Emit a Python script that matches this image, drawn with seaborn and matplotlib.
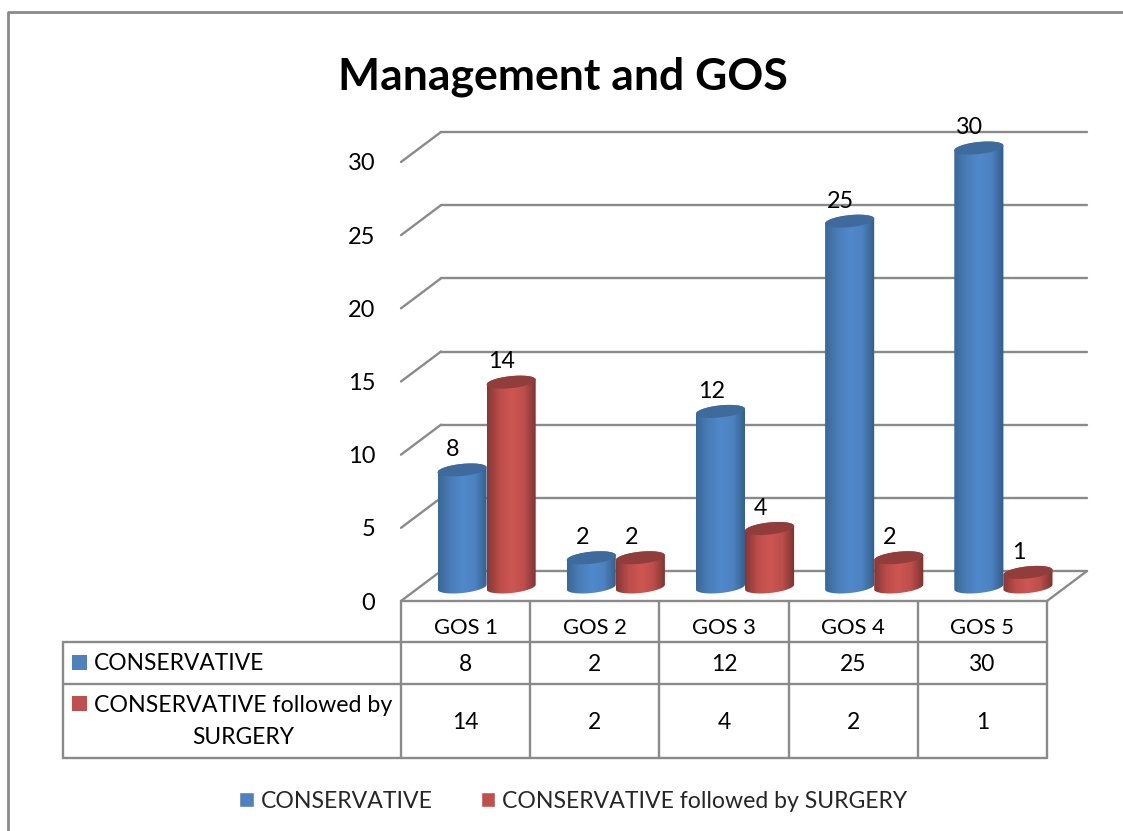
import numpy as np
import pandas as pd
import matplotlib
matplotlib.use("Agg")
import matplotlib.pyplot as plt
import seaborn as sns
from matplotlib.colors import LinearSegmentedColormap
from matplotlib.patches import PathPatch, Rectangle
from matplotlib.path import Path
from matplotlib.transforms import Affine2D, IdentityTransform, blended_transform_factory

categories = ["GOS 1", "GOS 2", "GOS 3", "GOS 4", "GOS 5"]
conservative = [8, 2, 12, 25, 30]
followed_by_surgery = [14, 2, 4, 2, 1]
value_ticks = [0, 5, 10, 15, 20, 25, 30]
series_names = ["CONSERVATIVE", "CONSERVATIVE followed by SURGERY"]
row_label_lines = [["CONSERVATIVE"], ["CONSERVATIVE followed by", "SURGERY"]]
title = "Management and GOS"

BLUE, RED = "#4F81BD", "#C0504D"
GRID = "#8A8A8A"
W, H = 1123, 831
TEXT_SIZE = 16.4

sns.set_theme(style="white")
plt.rcParams["font.family"] = ["Lato", "DejaVu Sans"]
plt.rcParams["savefig.dpi"] = 100

fig = plt.figure(figsize=(W / 100, H / 100), dpi=100, facecolor="white")

# Pixel-space layer for the outer frame and the data table
sheet = fig.add_axes([0, 0, 1, 1], zorder=0)
sheet.set_xlim(0, W)
sheet.set_ylim(H, 0)
sheet.axis("off")

ax = fig.add_axes([401 / W, (H - 601) / H, 646 / W, 439 / H], zorder=1)
ax.patch.set_alpha(0)

long_df = pd.DataFrame({
    "group": categories * 2,
    "series": [series_names[0]] * 5 + [series_names[1]] * 5,
    "count": conservative + followed_by_surgery,
})
sns.barplot(data=long_df, x="group", y="count", hue="series", hue_order=series_names,
            order=categories, palette=[BLUE, RED], saturation=1, width=0.76, gap=0, ax=ax)
ax.set_xlim(-0.5, 4.5)
ax.set_ylim(0, 30)
ax.set_xlabel("")
ax.set_ylabel("")
ax.set_yticks(value_ticks)
ax.tick_params(axis="y", length=0, pad=18.5, labelsize=17, colors="black")
ax.tick_params(axis="x", length=0, pad=12.5, labelsize=15.8, colors="black")
sns.despine(ax=ax, left=True, bottom=True)

# Oblique projection: back wall and cylinder floor positions
wall_shift = Affine2D().translate(40, 30)
wall = ax.transData + wall_shift
line_kw = dict(color=GRID, lw=1.7, solid_capstyle="round", clip_on=False, zorder=1)
x0, x1 = ax.get_xlim()
for v in value_ticks:
    ax.plot([x0, x1], [v, v], transform=wall, **line_kw)
    p0 = ax.transData.transform((x0, v))
    p1 = wall.transform((x0, v))
    ax.add_line(plt.Line2D([p0[0], p1[0]], [p0[1], p1[1]], transform=IdentityTransform(), **line_kw))
p0 = ax.transData.transform((x1, 0))
p1 = wall.transform((x1, 0))
ax.add_line(plt.Line2D([p0[0], p1[0]], [p0[1], p1[1]], transform=IdentityTransform(), **line_kw))
ax.plot([x0, x1], [0, 0], **line_kw)

lift = ax.transData + Affine2D().translate(21, 14)
ramps = {
    0: LinearSegmentedColormap.from_list("b", ["#3A6898", "#4A7DB8", "#5089CC", "#4D82C1", "#335D8A"]),
    1: LinearSegmentedColormap.from_list("r", ["#863836", "#BC4D4A", "#CE5652", "#BD4E4B", "#7C3331"]),
}
lids = {0: "#3E6A9C", 1: "#903D3B"}
tilt = np.deg2rad(6)
u = np.array([np.cos(tilt), np.sin(tilt)])
v_dir = np.array([-np.sin(tilt), np.cos(tilt)])


def ring(center, semi_a, semi_b, start, stop):
    th = np.deg2rad(np.linspace(start, stop, 40))
    return center + np.outer(semi_a * np.cos(th), u) + np.outer(semi_b * np.sin(th), v_dir)


for k, container in enumerate(ax.containers):
    for bar, value in zip(container, (conservative, followed_by_surgery)[k]):
        left, wid, hgt = bar.get_x(), bar.get_width(), bar.get_height()
        bar.set_visible(False)
        mid = left + wid / 2
        top = lift.transform((mid, hgt))
        base = lift.transform((mid, 0))
        a = (lift.transform((left + wid, 0))[0] - lift.transform((left, 0))[0]) / 2 / np.cos(tilt)
        b = 6
        outline = np.vstack([ring(base, a, b, 180, 360), ring(top, a, b, 0, 180)])
        body = PathPatch(Path(np.vstack([outline, outline[:1]]), closed=True),
                         transform=IdentityTransform(), fc="none", ec="none")
        ax.add_patch(body)
        ramp = np.linspace(0, 1, 64).reshape(1, -1)
        im = ax.imshow(ramp, cmap=ramps[k], aspect="auto", zorder=3 + k,
                       extent=(left, left + wid, -1, hgt + 1), transform=lift)
        im.set_clip_path(body)
        im.set_clip_box(fig.bbox)
        lid = ring(top, a, b, 0, 360)
        ax.add_patch(plt.Polygon(lid, closed=True, transform=IdentityTransform(),
                                 fc=lids[k], ec="none", zorder=3.5 + k, clip_on=False))
        ax.annotate(str(value), xy=(mid, hgt), xycoords=lift, xytext=(-6.5, 14.5),
                    textcoords="offset points", ha="center", va="center",
                    fontsize=TEXT_SIZE + 0.4, color="black", zorder=6, annotation_clip=False)
ax.set_xlim(x0, x1)
ax.set_ylim(0, 30)

sns.move_legend(ax, loc="center", bbox_to_anchor=(573.5 / W, 1 - 801 / H),
                bbox_transform=fig.transFigure, ncol=2, frameon=False, title=None,
                fontsize=16.6, handlelength=0.65, handleheight=0.65, handletextpad=0.3,
                columnspacing=2.05)

# Frame around the chart area, open toward the trimmed edges
sheet.plot([8, 8, W], [H, 12, 12], color=GRID, lw=2, clip_on=False)

# Data table under the floor
columns = blended_transform_factory(ax.transData, sheet.transData)
table_kw = dict(color=GRID, lw=1.7, solid_capstyle="round", clip_on=False)
for y in (642, 684, 758):
    sheet.plot([63, 1047], [y, y], **table_kw)
sheet.plot([63, 63], [642, 758], **table_kw)
for edge in np.arange(len(categories) + 1) - 0.5:
    sheet.plot([edge, edge], [601, 758], transform=columns, **table_kw)

for i in range(len(categories)):
    sheet.text(i, 664.5, str(conservative[i]), transform=columns, ha="center", va="center", fontsize=16.4, color="black")
    sheet.text(i, 722.5, str(followed_by_surgery[i]), transform=columns, ha="center", va="center", fontsize=16.4, color="black")

for colour, y in ((BLUE, 655), (RED, 696)):
    sheet.add_patch(Rectangle((72, y), 15, 15, fc=colour, ec="none"))
sheet.text(94, 664, row_label_lines[0][0], ha="left", va="center", fontsize=TEXT_SIZE, color="black")
sheet.text(94, 705, row_label_lines[1][0], ha="left", va="center", fontsize=TEXT_SIZE + 0.3, color="black")
sheet.text(243, 737, row_label_lines[1][1], ha="center", va="center", fontsize=TEXT_SIZE, color="black")

fig.text(563 / W, 1 - 77 / H, title, ha="center", va="center", fontsize=32, fontweight="bold", color="black")

fig.savefig("out.png", dpi=100, facecolor="white")
